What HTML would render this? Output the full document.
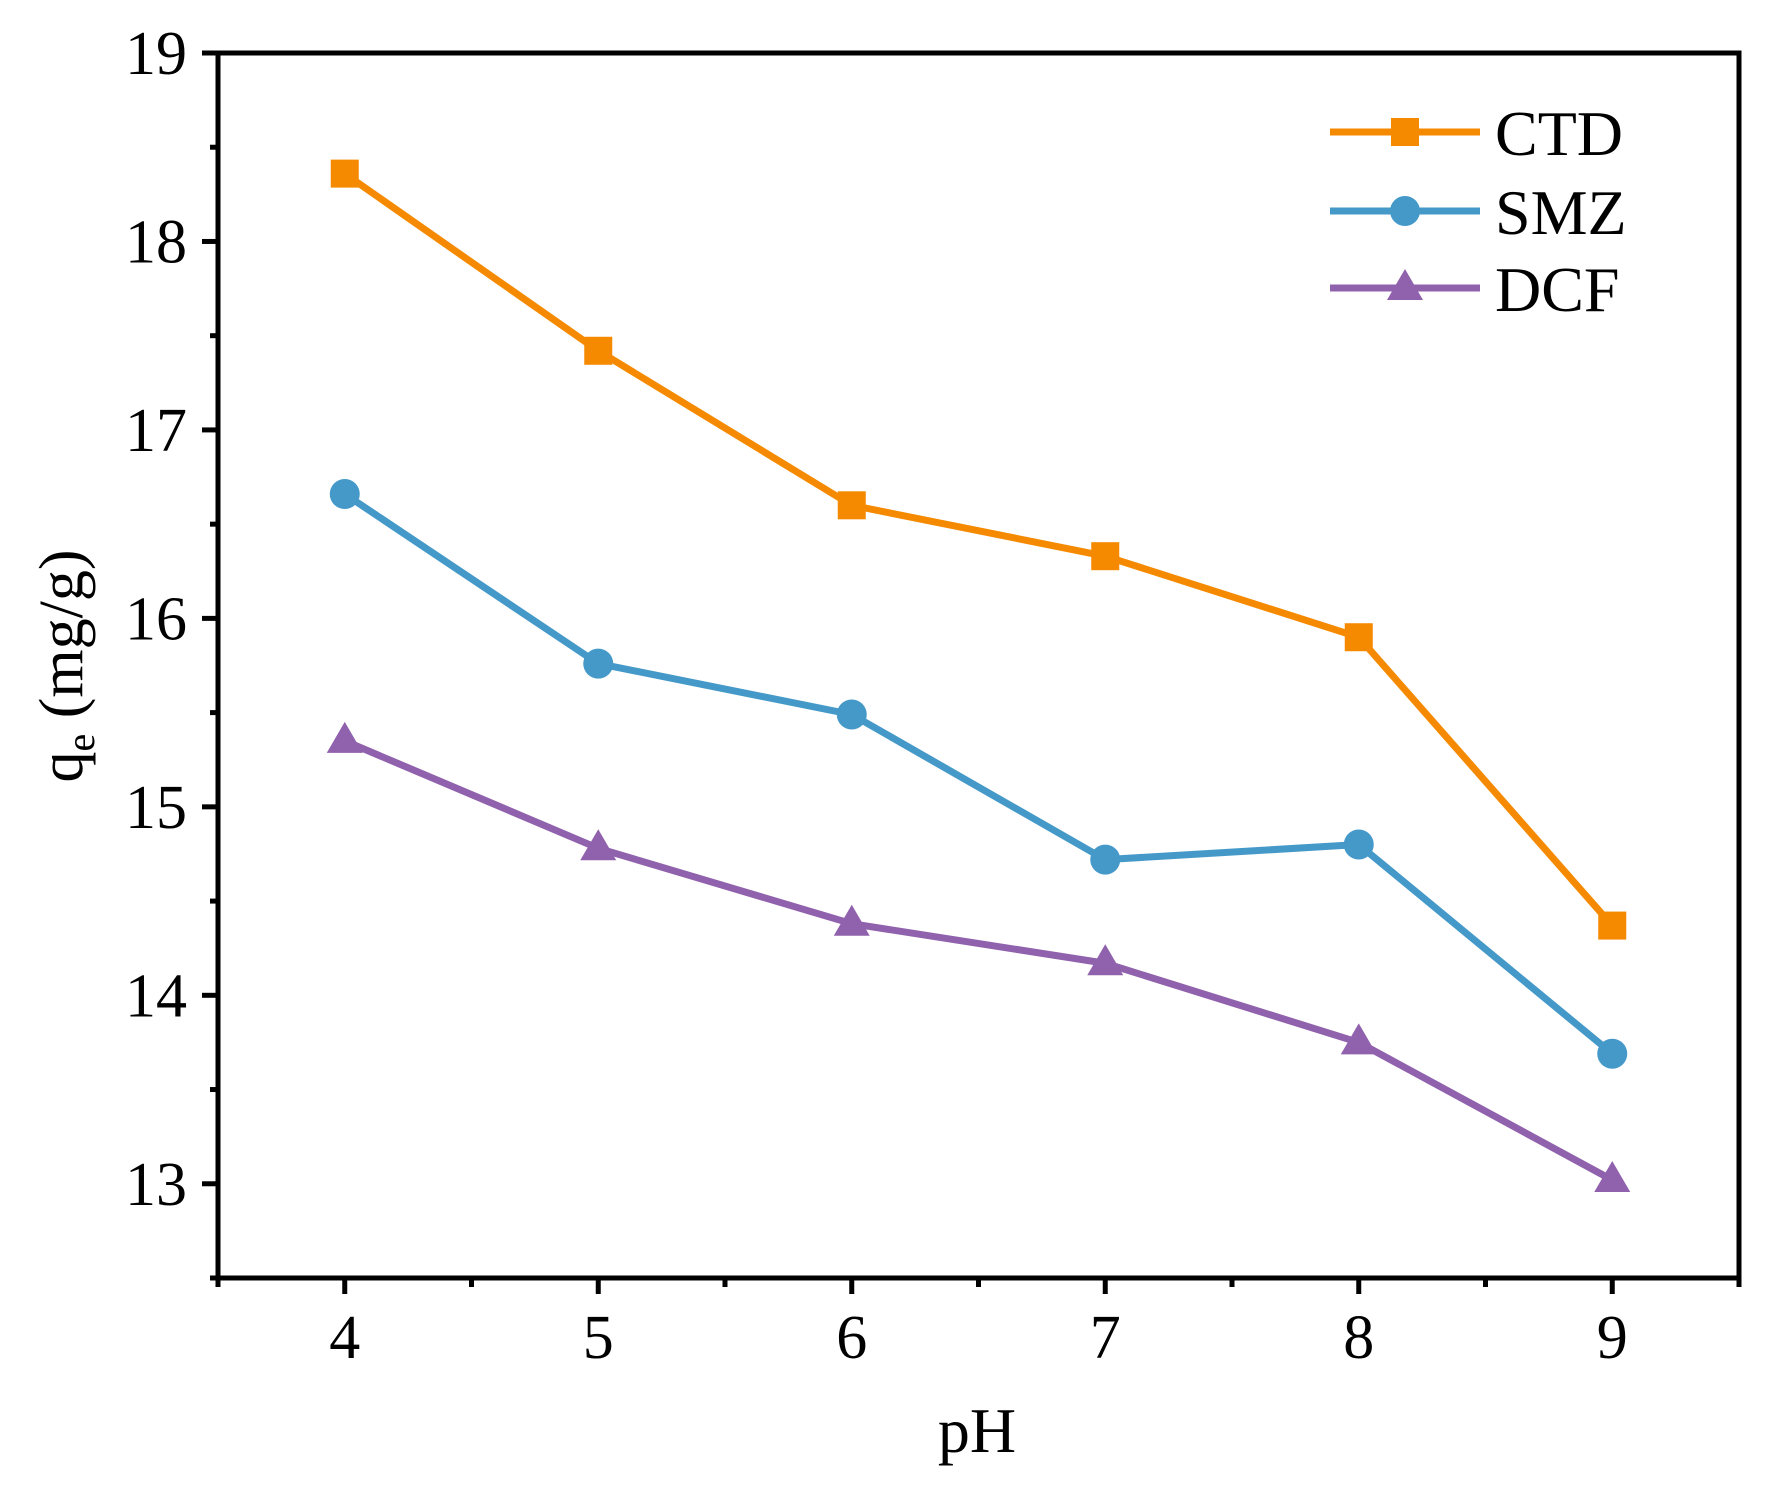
<!DOCTYPE html>
<html><head><meta charset="utf-8"><style>
html,body{margin:0;padding:0;background:#fff;}
svg{display:block;font-family:"Liberation Serif","Times New Roman",Times,serif;}
</style></head><body>
<svg id="chart" width="1768" height="1496" viewBox="0 0 1768 1496" xmlns="http://www.w3.org/2000/svg">
<g id="grid"></g>
<g id="series"></g>
<g id="legend"></g>
<text x="977" y="1452" font-size="64" text-anchor="middle">pH</text>
<text transform="translate(82,666) rotate(-90)" font-size="62" text-anchor="middle">q<tspan font-size="40" dy="12">e</tspan><tspan dy="-12"> (mg/g)</tspan></text>
</svg>
<script>
const categories = [4, 5, 6, 7, 8, 9];
const ctdValues = [18.36, 17.42, 16.60, 16.33, 15.90, 14.37];
const smzValues = [16.66, 15.76, 15.49, 14.72, 14.80, 13.69];
const dcfValues = [15.35, 14.78, 14.38, 14.17, 13.75, 13.02];
const yTicks = [13, 14, 15, 16, 17, 18, 19];
const xTicks = [4, 5, 6, 7, 8, 9];
const seriesNames = ["CTD", "SMZ", "DCF"];

const NS = "http://www.w3.org/2000/svg";
const L = 218, R = 1739, T = 53, B = 1278;
const xMin = 3.5, xMax = 9.5, yMin = 12.5, yMax = 19;
function xs(v){ return L + (v - xMin) / (xMax - xMin) * (R - L); }
function ys(v){ return B - (v - yMin) / (yMax - yMin) * (B - T); }
function mk(tag, attrs, parent){ const e = document.createElementNS(NS, tag); for (const k in attrs) e.setAttribute(k, attrs[k]); parent.appendChild(e); return e; }

const axes = document.getElementById('grid');
const frame = mk('rect', {x:L, y:T, width:R-L, height:B-T, fill:'none', stroke:'#000', 'stroke-width':5}, axes);


yTicks.forEach(v => {
  const t = mk('line', {x1:L-16, x2:L, y1:ys(v), y2:ys(v), stroke:'#000', 'stroke-width':5}, axes);
  
  
  const lb = mk('text', {x:187, y:ys(v)+21, 'font-size':62, 'text-anchor':'end'}, axes);
  lb.textContent = v;
  
  
  if (v < yMax) {
    const m = mk('line', {x1:L-8, x2:L, y1:ys(v+0.5), y2:ys(v+0.5), stroke:'#000', 'stroke-width':5}, axes);
    
    
  }
});
const m0 = mk('line', {x1:L-8, x2:L, y1:ys(12.5), y2:ys(12.5), stroke:'#000', 'stroke-width':5}, axes);


xTicks.forEach(v => {
  const t = mk('line', {x1:xs(v), x2:xs(v), y1:B, y2:B+16, stroke:'#000', 'stroke-width':5}, axes);
  
  
  const lb = mk('text', {x:xs(v), y:1358, 'font-size':62, 'text-anchor':'middle'}, axes);
  lb.textContent = v;
  
  
});
[3.5, 4.5, 5.5, 6.5, 7.5, 8.5, 9.5].forEach(v => {
  const m = mk('line', {x1:xs(v), x2:xs(v), y1:B, y2:B+9, stroke:'#000', 'stroke-width':5}, axes);
  
  
});

const colors = ['#F58A00', '#4499C9', '#9061AC'];
const shapes = ['square', 'circle', 'triangle'];
const allValues = [ctdValues, smzValues, dcfValues];
function marker(shape, x, y, color, g){
  let e;
  if (shape === 'square') e = mk('rect', {x:x-14, y:y-14, width:28, height:28, fill:color}, g);
  else if (shape === 'circle') e = mk('circle', {cx:x, cy:y, r:15, fill:color}, g);
  else e = mk('polygon', {points:`${x},${y-19} ${x+18},${y+12} ${x-18},${y+12}`, fill:color}, g);
  return e;
}
const sg = document.getElementById('series');
allValues.forEach((vals, i) => {
  const g = mk('g', {}, sg);
  
  
  const pl = mk('polyline', {points: vals.map((v, j) => xs(categories[j]) + ',' + ys(v)).join(' '), fill:'none', stroke:colors[i], 'stroke-width':7, 'stroke-linejoin':'round'}, g);
  
  
  vals.forEach((v, j) => {
    const m = marker(shapes[i], xs(categories[j]), ys(v), colors[i], g);
    
    
  });
});

const lg = document.getElementById('legend');
const legendY = [132, 211, 288];
seriesNames.forEach((n, i) => {
  const g = mk('g', {}, lg);
  
  
  mk('line', {x1:1330, x2:1480, y1:legendY[i], y2:legendY[i], stroke:colors[i], 'stroke-width':7}, g);
  marker(shapes[i], 1405, legendY[i], colors[i], g);
  const t = mk('text', {x:1495, y:legendY[i]+23, 'font-size':64}, g);
  t.textContent = n;
});
</script>
</body></html>
